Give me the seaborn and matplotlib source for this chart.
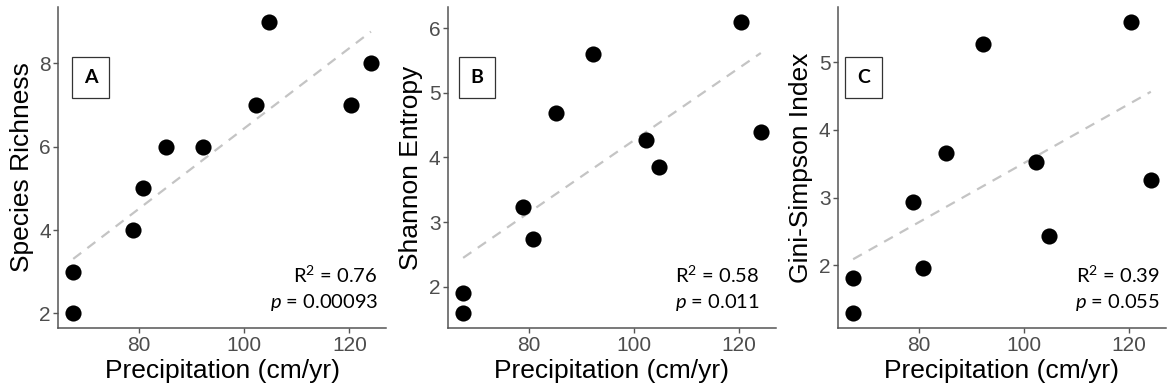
import numpy as np
import pandas as pd
import matplotlib
matplotlib.use("Agg")
import matplotlib.pyplot as plt
import seaborn as sns

precip = [67.5, 67.5, 78.9, 80.7, 85.2, 92.2, 102.3, 104.7, 120.3, 124.1]
richness = [2, 3, 4, 5, 6, 6, 7, 9, 7, 8]
shannon = [1.59, 1.91, 3.24, 2.74, 4.68, 5.60, 4.27, 3.85, 6.10, 4.40]
gini = [1.29, 1.81, 2.94, 1.96, 3.66, 5.27, 3.53, 2.44, 5.60, 3.26]

panels = ["A", "B", "C"]
ylabels = ["Species Richness", "Shannon Entropy", "Gini-Simpson Index"]
r2_labels = ["0.76", "0.58", "0.39"]
p_labels = ["0.00093", "0.011", "0.055"]
yticks = [[2, 4, 6, 8], [2, 3, 4, 5, 6], [2, 3, 4, 5]]
xticks = [80, 100, 120]

sns.set_theme(style="ticks")
plt.rcParams["font.family"] = ["Liberation Sans", "DejaVu Sans"]
plt.rcParams["mathtext.fontset"] = "custom"
plt.rcParams["mathtext.rm"] = "Lato"
plt.rcParams["mathtext.it"] = "Lato:italic"

fig = plt.figure(figsize=(11.67, 3.9), dpi=100)
lefts = [0.050, 0.3841, 0.7183]
width = 0.2806
bottom = 0.159
height = 0.823
text_x = [0.9756, 0.950, 0.9826]
box_x = [0.098, 0.087, 0.077]

spine_col = "#555555"
series = [richness, shannon, gini]
for i in range(3):
    ax = fig.add_axes([lefts[i], bottom, width, height])
    df = pd.DataFrame({"x": precip, "y": series[i]})
    sns.regplot(data=df, x="x", y="y", ax=ax, scatter=False, ci=None, truncate=True,
                line_kws=dict(color="#c4c4c4", lw=1.6, ls=(0, (4.5, 3.5))))
    sns.scatterplot(data=df, x="x", y="y", ax=ax, color="black", s=135,
                    edgecolor="black", linewidth=0, zorder=3)
    xr = max(precip) - min(precip)
    ax.set_xlim(min(precip) - 0.05 * xr, max(precip) + 0.05 * xr)
    yv = series[i]
    yr = max(yv) - min(yv)
    ax.set_ylim(min(yv) - 0.05 * yr, max(yv) + 0.05 * yr)
    ax.set_xticks(xticks)
    ax.set_yticks(yticks[i])
    ax.tick_params(axis="both", labelsize=15, colors=spine_col, labelcolor="#4d4d4d",
                   length=3.5, width=1, pad=2)
    for s in ["top", "right"]:
        ax.spines[s].set_visible(False)
    for s in ["left", "bottom"]:
        ax.spines[s].set_color(spine_col)
        ax.spines[s].set_linewidth(1.1)
    ax.set_xlabel("Precipitation (cm/yr)", fontsize=19, color="black", labelpad=3)
    ax.set_ylabel(ylabels[i], fontsize=19, color="black", labelpad=4)
    ax.set_facecolor("white")
    ax.text(text_x[i], 0.140, r"R$^{2}$ = " + r2_labels[i], transform=ax.transAxes,
            ha="right", va="baseline", fontsize=14.5, family="Lato", color="black")
    ax.text(text_x[i], 0.061, r"$\it{p}$ = " + p_labels[i], transform=ax.transAxes,
            ha="right", va="baseline", fontsize=14.5, family="Lato", color="black")
    ax.text(box_x[i], 0.78, panels[i], transform=ax.transAxes, ha="center", va="center",
            fontsize=14, fontweight="bold", family="Lato", color="black",
            bbox=dict(boxstyle="square,pad=0.6", facecolor="white", edgecolor="#333333", lw=0.9))

fig.savefig("out.png", dpi=100, facecolor="white")
